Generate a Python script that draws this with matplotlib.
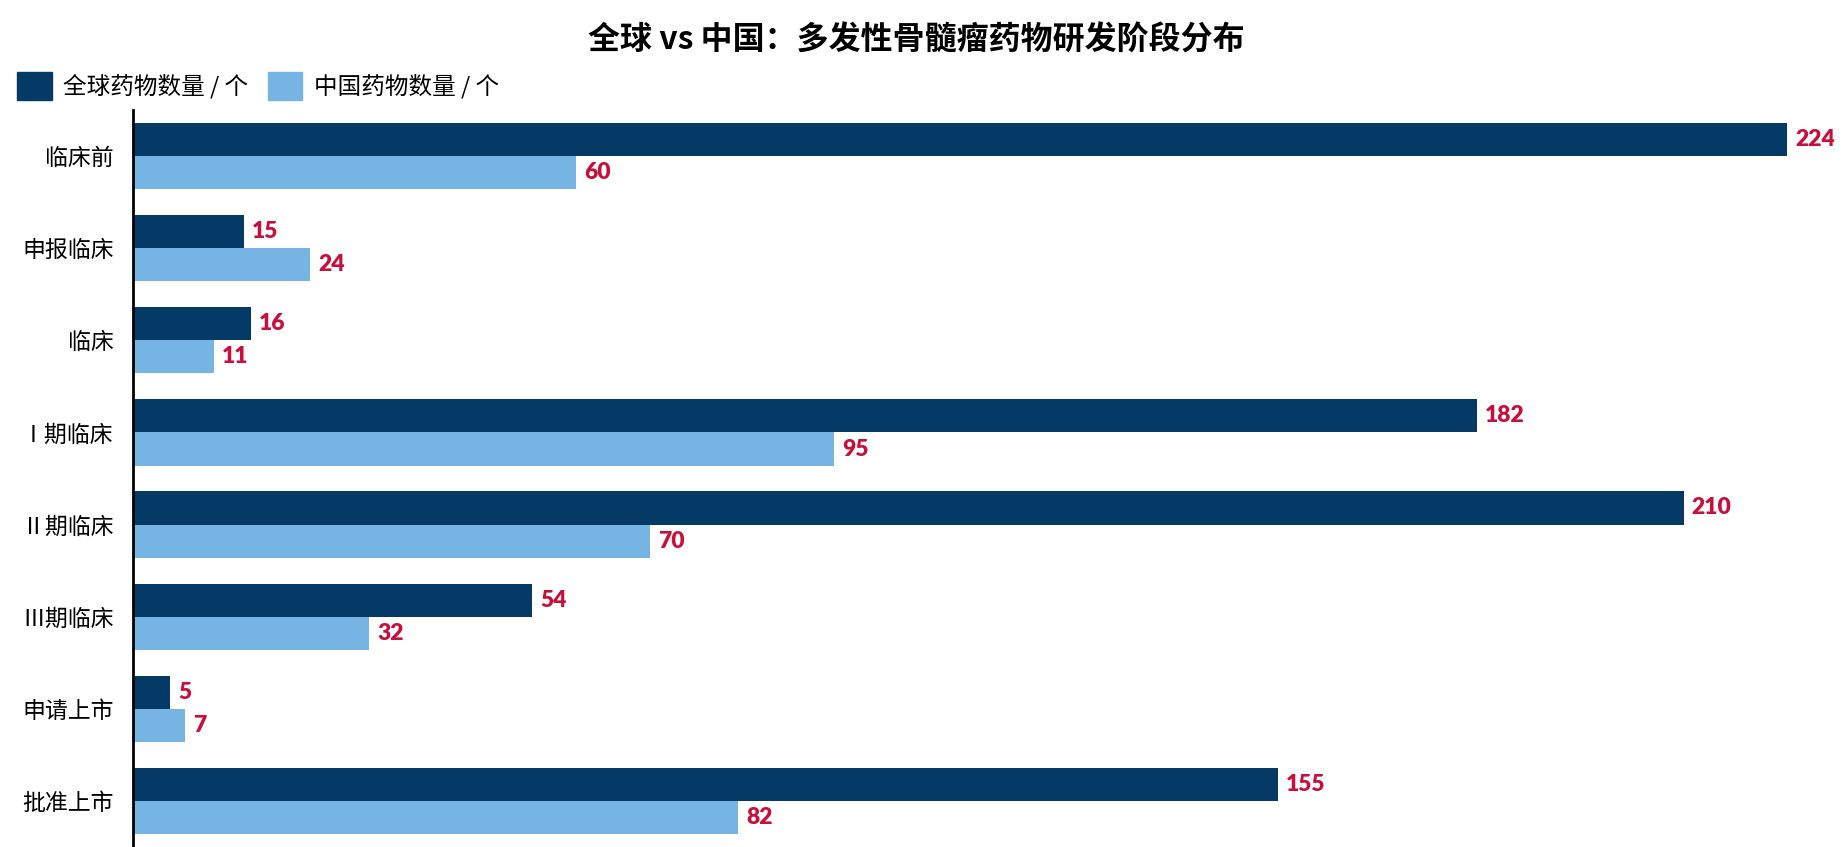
import matplotlib
matplotlib.use('Agg')
import matplotlib.pyplot as plt
from matplotlib.patches import Patch
import numpy as np

plt.rcParams['font.family'] = ['Noto Sans CJK SC', 'DejaVu Sans']

# data
categories = ['临床前', '申报临床', '临床', 'Ⅰ期临床', 'Ⅱ期临床', 'Ⅲ期临床', '申请上市', '批准上市']
global_counts = [224, 15, 16, 182, 210, 54, 5, 155]
china_counts = [60, 24, 11, 95, 70, 32, 7, 82]
series_names = ['全球药物数量 / 个', '中国药物数量 / 个']

dark = '#053A66'
light = '#76B5E3'
label_color = '#C8103C'

W, H = 1844, 847
fig = plt.figure(figsize=(W / 100, H / 100), dpi=100)
ax = fig.add_axes([133 / W, 0, (W - 133) / W, (H - 110) / H])

y = np.arange(len(categories))
bh = 0.36
ax.barh(y - bh / 2, global_counts, height=bh, color=dark, label=series_names[0])
ax.barh(y + bh / 2, china_counts, height=bh, color=light, label=series_names[1])

for yi, g, c in zip(y, global_counts, china_counts):
    ax.text(g + 1.1, yi - bh / 2, str(g), va='center', ha='left',
            fontsize=16.5, fontweight='heavy', color=label_color, family='Lato')
    ax.text(c + 1.1, yi + bh / 2, str(c), va='center', ha='left',
            fontsize=16.5, fontweight='heavy', color=label_color, family='Lato')

ax.set_xlim(0, (W - 133) / 7.384)
ax.set_ylim(len(categories) - 0.5, -0.5)
ax.set_yticks(y)
ax.set_yticklabels(categories, fontsize=16.5)
ax.tick_params(axis='y', length=0, pad=14)
ax.set_xticks([])
for s in ['top', 'right', 'bottom']:
    ax.spines[s].set_visible(False)
ax.spines['left'].set_linewidth(2)
ax.spines['left'].set_color('black')

fig.text(0.497, 1 - 41 / H, '全球 vs 中国：多发性骨髓瘤药物研发阶段分布', ha='center', va='center',
         fontsize=23, fontweight='bold')

handles = [Patch(color=dark), Patch(color=light)]
fig.legend(handles, series_names, loc='center left', bbox_to_anchor=(8 / W, 1 - 86 / H),
           ncol=2, frameon=False, fontsize=17, handlelength=1.45, handleheight=1.45,
           handletextpad=0.5, columnspacing=0.8, borderaxespad=0)

fig.savefig('out.png', dpi=100)
